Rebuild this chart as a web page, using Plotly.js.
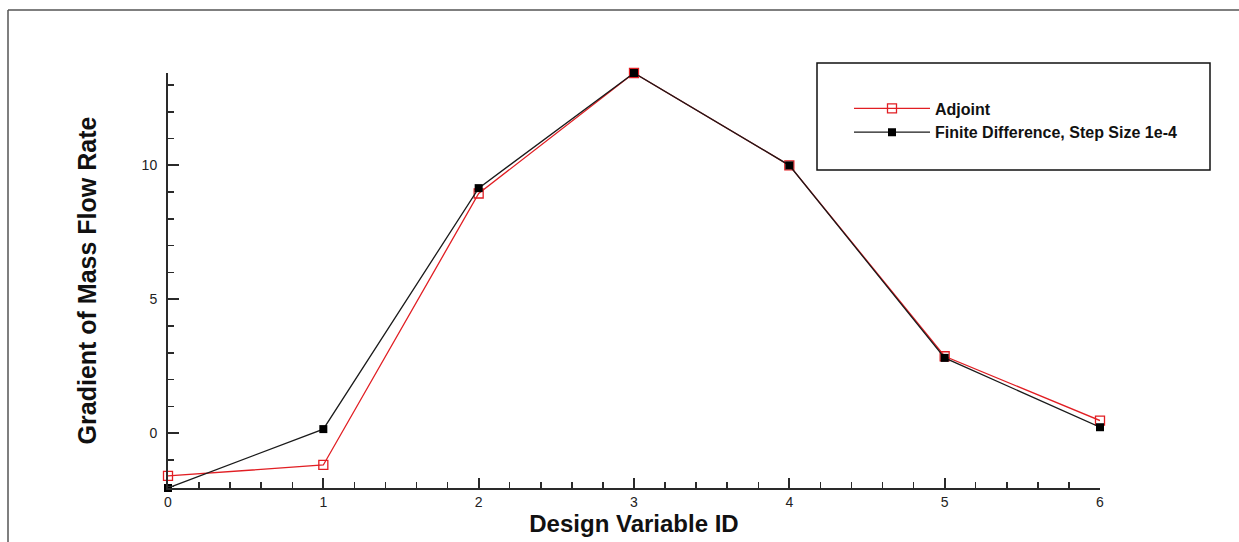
<!DOCTYPE html>
<html>
<head>
<meta charset="utf-8">
<script src="https://cdn.plot.ly/plotly-3.0.1.min.js"></script>
<style>html,body{margin:0;padding:0;background:#fff;}#chart{width:1239px;height:542px;}</style>
</head>
<body>
<div id="chart"></div>
<script>
const designVariableIds = [0, 1, 2, 3, 4, 5, 6];
const adjointGradient = [-1.60, -1.19, 8.95, 13.45, 10.00, 2.87, 0.47];
const finiteDiffGradient = [-2.05, 0.15, 9.15, 13.45, 10.00, 2.81, 0.22];
const xTickValues = [0, 1, 2, 3, 4, 5, 6];
const yTickValues = [0, 5, 10];

const FONT = 'Liberation Sans, Arial, Helvetica, sans-serif';
const AXC = '#2a2a2a';

const traces = [
  {
    x: designVariableIds, y: adjointGradient, name: 'Adjoint',
    type: 'scatter', mode: 'lines+markers', cliponaxis: false,
    line: {color: 'rgb(225,30,35)', width: 1.3},
    marker: {symbol: 'square-open', size: 9, color: 'rgb(225,30,35)', line: {width: 1.3, color: 'rgb(225,30,35)'}}
  },
  {
    x: designVariableIds, y: finiteDiffGradient, name: 'Finite Difference, Step Size 1e-4',
    type: 'scatter', mode: 'lines+markers', cliponaxis: false,
    line: {color: '#1a1a1a', width: 1.3},
    marker: {symbol: 'square', size: 8, color: '#000'}
  }
];

const W = 1239, H = 542, L = 168, R = 1100, T = 73, B = 488;
const px = v => (v - L) / (R - L);
const py = v => (B - v) / (B - T);

const layout = {
  width: W, height: H,
  margin: {l: L, r: W - R, t: T, b: H - B, pad: 0},
  paper_bgcolor: '#fff', plot_bgcolor: '#fff',
  font: {family: FONT, color: '#222', size: 12},
  showlegend: true,
  xaxis: {
    range: [0, 6], tickvals: xTickValues, ticktext: xTickValues.map(String),
    showgrid: false, zeroline: false, showline: true, linecolor: AXC, linewidth: 2,
    ticks: 'inside', ticklen: 10, tickwidth: 2, tickcolor: AXC,
    minor: {dtick: 0.2, tick0: 0, ticks: 'inside', ticklen: 6, tickwidth: 1.5, tickcolor: AXC, showgrid: false},
    tickfont: {size: 14, family: FONT, color: '#222'},
    title: {text: 'Design Variable ID', font: {size: 24, family: FONT, weight: 'bold', color: '#111'}, standoff: 0},
    automargin: false, fixedrange: true
  },
  yaxis: {
    range: [-2.05, 13.45], tickvals: yTickValues, ticktext: yTickValues.map(String),
    showgrid: false, zeroline: false, showline: true, linecolor: AXC, linewidth: 2,
    ticks: 'inside', ticklen: 11, tickwidth: 2, tickcolor: AXC,
    minor: {dtick: 1, tick0: 0, ticks: 'inside', ticklen: 6, tickwidth: 1.5, tickcolor: AXC, showgrid: false},
    tickfont: {size: 14, family: FONT, color: '#222'},
    ticklabelstandoff: 6,
    title: {text: 'Gradient of Mass Flow Rate', font: {size: 25, family: FONT, weight: 'bold', color: '#111'}, standoff: 38},
    automargin: false, fixedrange: true
  },
  legend: {
    x: px(849), y: py(91.5), xanchor: 'left', yanchor: 'top',
    bgcolor: 'rgba(0,0,0,0)', borderwidth: 0,
    font: {size: 16, family: FONT, weight: 'bold', color: '#111'},
    itemwidth: 76, tracegroupgap: 0
  },
  shapes: [
    {type: 'rect', xref: 'paper', yref: 'paper', x0: px(817), x1: px(1210), y0: py(170), y1: py(63),
     line: {color: '#111', width: 1.5}, fillcolor: 'rgba(0,0,0,0)', layer: 'below'},
    {type: 'line', xref: 'paper', yref: 'paper', x0: px(8), x1: px(8), y0: py(10), y1: py(545),
     line: {color: '#555', width: 1.5}},
    {type: 'line', xref: 'paper', yref: 'paper', x0: px(8), x1: px(1245), y0: py(10), y1: py(10),
     line: {color: '#555', width: 1.5}}
  ]
};

Plotly.newPlot('chart', traces, layout, {displayModeBar: false, staticPlot: true});
</script>
</body>
</html>
